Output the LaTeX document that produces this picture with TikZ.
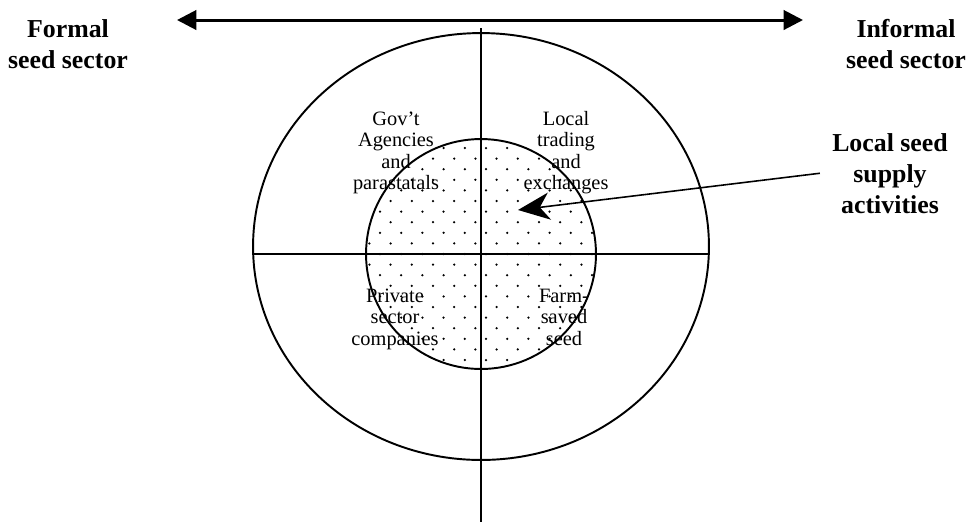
\documentclass[tikz,border=0pt]{standalone}
\usepackage{fontspec}
\setmainfont{Liberation Serif}
\usetikzlibrary{arrows.meta, shapes.geometric, calc}

\begin{document}
\begin{tikzpicture}[
    x=0.02cm, y=-0.02cm,
    >=Stealth,
    sector/.style={font=\fontsize{14.7}{17.6}\selectfont\bfseries, align=center, anchor=base, inner sep=0pt},
    quad/.style={font=\fontsize{11.6}{12.2}\selectfont, align=center, anchor=base, inner sep=0pt},
    ring/.style={draw, line width=1.1pt, inner sep=0pt},
    axis/.style={line width=1.1pt},
    spread/.style={{Triangle[length=11pt, width=11pt]}-{Triangle[length=11pt, width=11pt]}, line width=1.7pt},
    pointer/.style={-{Stealth[length=18pt, width=15.5pt, inset=5.5pt]}, line width=0.9pt},
  ]
  \useasboundingbox (0,0) rectangle (969,529);

  % --- Dotted core: local seed supply ---
  \begin{scope}
    \clip (481,254) circle [radius=2.3cm];
    \foreach \i in {-12,-10,...,12}
      \foreach \j in {-12,-10,...,12} {
        \fill ({486+\i*10.6},{254+\j*10.6}) circle [radius=0.025cm];
        \fill ({486+(\i+1)*10.6},{254+(\j+1)*10.6}) circle [radius=0.025cm];
      }
  \end{scope}

  % --- Rings ---
  \node[ring, ellipse, minimum width=9.12cm, minimum height=8.54cm] (outer) at (481,246.5) {};
  \node[ring, circle, minimum size=4.6cm] (inner) at (481,254) {};

  % --- Axes ---
  \coordinate (axtop) at (481,28);
  \coordinate (axbot) at (481,522);
  \draw[axis] (axtop) -- (axbot);
  \draw[axis] (outer.west |- inner.center) -- (outer.east |- inner.center);

  % --- Formal / informal spread ---
  \coordinate (lft) at (177,20);
  \coordinate (rgt) at (803,20);
  \draw[spread] (lft) -- (rgt);

  % (base = last line)
  \node[sector] (formal) at (68,68) {Formal\\seed sector};
  \node[sector] (informal) at (906,68) {Informal\\seed sector};
  \node[sector] (local) at (890,213) {Local seed\\supply\\activities};

  % --- Quadrants ---
  \node[quad] (govt) at (396,189.5) {Gov't\\Agencies\\and\\parastatals};
  \node[quad] (trade) at (566,189.5) {Local\\trading\\and\\exchanges};
  \node[quad] (private) at (395,345) {Private\\sector\\companies};
  \node[quad] (farm) at (564,345) {Farm-{}\\saved\\seed};

  % --- Pointer into the core ---
  \coordinate (tip) at (518,210);
  \draw[pointer] ([xshift=-0.24cm]local.west) -- (tip);

\end{tikzpicture}
\end{document}
